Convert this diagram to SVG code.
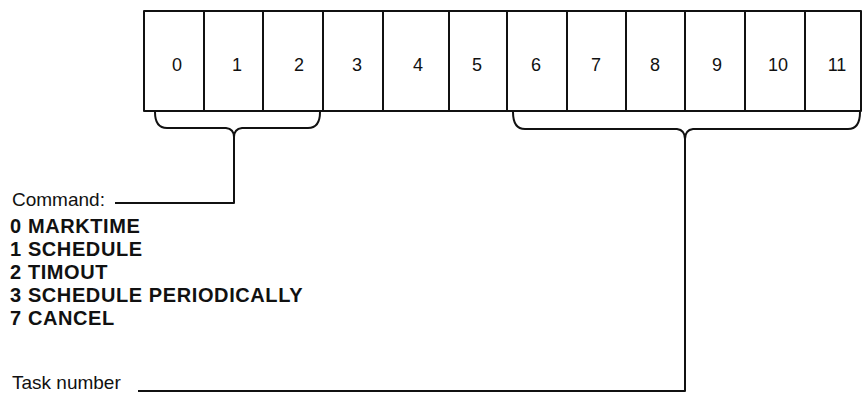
<svg xmlns="http://www.w3.org/2000/svg" width="862" height="394" viewBox="0 0 862 394">
<style>
.ln{fill:none;stroke:#111;stroke-width:2;stroke-linejoin:round;stroke-linecap:butt}
.dg{font-family:"Liberation Sans",Arial,sans-serif;font-size:18px;fill:#111;text-anchor:middle}
.rg{font-family:"Liberation Sans",Arial,sans-serif;font-size:19px;fill:#111}
.bd{font-family:"Liberation Sans",Arial,sans-serif;font-size:20px;font-weight:bold;letter-spacing:0.6px;fill:#111}
</style>
<rect width="862" height="394" fill="#fff"/>
<g id="register">
<rect class="ln" x="144" y="11" width="717" height="100"/>
<path class="ln" d="M204,11V111M263,11V111M323,11V111M383,11V111M449,11V111M507,11V111M567,11V111M626,11V111M685,11V111M745,11V111M805,11V111"/>
<text class="dg" x="177" y="71">0</text>
<text class="dg" x="237" y="71">1</text>
<text class="dg" x="299" y="71">2</text>
<text class="dg" x="357" y="71">3</text>
<text class="dg" x="418" y="71">4</text>
<text class="dg" x="477" y="71">5</text>
<text class="dg" x="536" y="71">6</text>
<text class="dg" x="596" y="71">7</text>
<text class="dg" x="655" y="71">8</text>
<text class="dg" x="717" y="71">9</text>
<text class="dg" x="778" y="71">10</text>
<text class="dg" x="837" y="71">11</text>
</g>
<g id="command-brace">
<path class="ln" d="M155,112Q155,128 167,128L226,128Q234,129 234,137Q234,129 242,128L308,128Q320,128 320,112"/>
</g>
<g id="task-brace">
<path class="ln" d="M513,112Q513,129 525,129L677,129Q685,130 685,139Q685,130 693,129L848,129Q860,129 860,112"/>
</g>
<g id="command-label">
<text class="rg" x="12" y="206">Command:</text>
<text class="bd" x="10" y="233">0 MARKTIME</text>
<text class="bd" x="10" y="256">1 SCHEDULE</text>
<text class="bd" x="10" y="279">2 TIMOUT</text>
<text class="bd" x="10" y="302">3 SCHEDULE PERIODICALLY</text>
<text class="bd" x="10" y="325">7 CANCEL</text>
</g>
<g id="task-label">
<text class="rg" x="12" y="389">Task number</text>
</g>
<g id="connectors">
<path class="ln" d="M234,137V203H115"/>
<path class="ln" d="M685,139V391H138"/>
</g>
</svg>
